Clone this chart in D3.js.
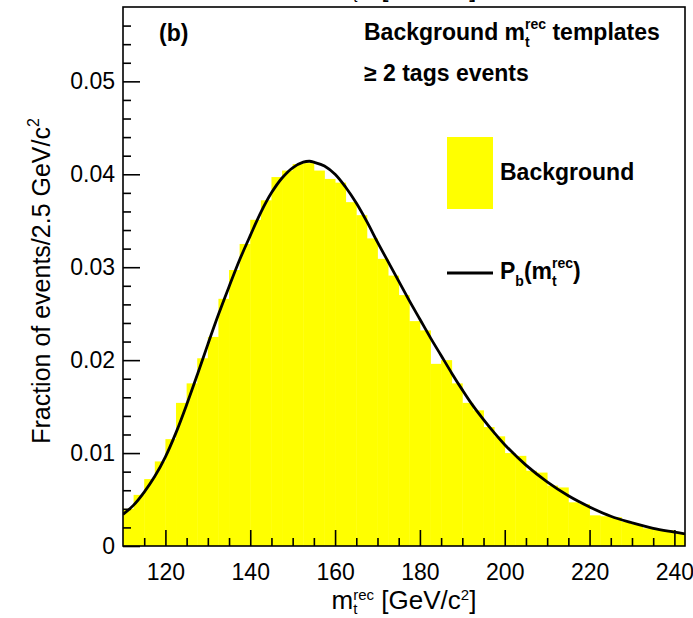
<!DOCTYPE html>
<html><head><meta charset="utf-8">
<script src="https://cdn.jsdelivr.net/npm/d3@7"></script>
<style>
body{margin:0;background:#fff}
svg{display:block}
text{font-family:"Liberation Sans",Arial,Helvetica,sans-serif;white-space:pre;fill:#000}
</style>
</head><body>
<svg id="chart" width="693" height="618"></svg>
<script>
// ---- data ----
const binStarts = [110,112.5,115,117.5,120,122.5,125,127.5,130,132.5,135,137.5,140,142.5,145,147.5,150,152.5,155,157.5,160,162.5,165,167.5,170,172.5,175,177.5,180,182.5,185,187.5,190,192.5,195,197.5,200,202.5,205,207.5,210,212.5,215,217.5,220,222.5,225,227.5,230,232.5,235,237.5,240];
const binWidth = 2.5;
const backgroundValues = [0.0040,0.0055,0.0072,0.0091,0.0115,0.0154,0.0175,0.0202,0.0225,0.0266,0.0297,0.0325,0.0351,0.0372,0.0397,0.0404,0.0411,0.0412,0.0404,0.0395,0.0391,0.0370,0.0356,0.0331,0.0309,0.0291,0.0270,0.0242,0.0232,0.0196,0.0200,0.0175,0.0154,0.0146,0.0128,0.0118,0.0100,0.0097,0.0081,0.0079,0.0065,0.0063,0.0047,0.0045,0.0033,0.0032,0.0031,0.0026,0.0023,0.0019,0.0018,0.0017,0.0013];
const fitX = [110,112.5,115,117.5,120,122.5,125,127.5,130,132.5,135,137.5,140,142.5,145,147.5,150,152.5,154,155,157.5,160,162.5,165,167.5,170,172.5,175,177.5,180,182.5,185,187.5,190,192.5,195,197.5,200,205,210,215,220,225,230,235,240,242.5];
const fitY = [0.0034,0.0044,0.0058,0.0075,0.0096,0.0122,0.0152,0.0184,0.0217,0.0249,0.0279,0.0308,0.0334,0.0359,0.0380,0.0396,0.0407,0.0413,0.0414,0.0413,0.0409,0.0400,0.0386,0.0369,0.0349,0.0327,0.0306,0.0285,0.0264,0.0244,0.0224,0.0205,0.0186,0.0168,0.0151,0.0136,0.0122,0.0109,0.0087,0.0069,0.0054,0.0042,0.0032,0.0025,0.0019,0.0015,0.0013];
const xTickValues = [120,140,160,180,200,220,240];
const xTickLabels = ["120","140","160","180","200","220","240"];
const yTickValues = [0,0.01,0.02,0.03,0.04,0.05];
const yTickLabels = ["0","0.01","0.02","0.03","0.04","0.05"];
const xDomain = [110,242.5];
const yDomain = [0,0.058];

// ---- layout ----
const L = 123, R = 685, T = 7, B = 546;
const svg = d3.select("#chart");
const x = d3.scaleLinear().domain(xDomain).range([L,R]);
const y = d3.scaleLinear().domain(yDomain).range([B,T]);

// histogram
svg.append("g").selectAll("rect").data(binStarts).join("rect")
  .attr("x", d => x(d))
  .attr("width", d => x(d+binWidth)-x(d)+0.4)
  .attr("y", (d,i) => y(backgroundValues[i]))
  .attr("height", (d,i) => y(0)-y(backgroundValues[i]))
  .attr("fill", "#ffff00");

// fit curve
const clipId = "plotclip";
svg.append("clipPath").attr("id", clipId).append("rect").attr("x",L).attr("y",T).attr("width",R-L).attr("height",B-T);
svg.append("path")
  .datum(fitX.map((v,i)=>[v,fitY[i]]))
  .attr("clip-path", `url(#${clipId})`)
  .attr("fill","none").attr("stroke","#000").attr("stroke-width",2.8)
  .attr("d", d3.line().x(d=>x(d[0])).y(d=>y(d[1])).curve(d3.curveCatmullRom.alpha(0.5)));

// axes
const fs = 23;
const xMinor = d3.range(115, 241, 5).filter(v => !xTickValues.includes(v));
const yMinor = d3.range(1, 29).map(k => k*0.002).filter(v => Math.abs(v*100 - Math.round(v*100)) > 1e-6);

const gxMinor = svg.append("g").attr("transform",`translate(0,${B})`)
  .call(d3.axisBottom(x).tickValues(xMinor).tickSize(-8).tickFormat(""));
const gx = svg.append("g").attr("transform",`translate(0,${B})`)
  .call(d3.axisBottom(x).tickValues(xTickValues).tickSize(-16).tickPadding(18)
    .tickFormat((d,i)=>xTickLabels[i]));
const gyMinor = svg.append("g").attr("transform",`translate(${L},0)`)
  .call(d3.axisLeft(y).tickValues(yMinor).tickSize(-8).tickFormat(""));
const gy = svg.append("g").attr("transform",`translate(${L},0)`)
  .call(d3.axisLeft(y).tickValues(yTickValues).tickSize(-17).tickPadding(8)
    .tickFormat((d,i)=>yTickLabels[i]));
[gx,gy,gxMinor,gyMinor].forEach(g=>{
  g.select(".domain").remove();
  g.selectAll(".tick line").attr("stroke","#000").attr("stroke-width",1.6);
  g.selectAll(".tick text").attr("font-size",fs).attr("font-family",'"Liberation Sans",Arial,sans-serif').attr("fill","#000");
});

// frame
svg.append("rect").attr("x",L).attr("y",T).attr("width",R-L).attr("height",B-T)
  .attr("fill","none").attr("stroke","#000").attr("stroke-width",1.6);

// rich text helper
function rich(parent, px, py, parts, opts={}) {
  const g = parent.append("g");
  let cx = 0, pend = 0;
  parts.forEach(p => {
    const t = g.append("text").attr("x", cx).attr("y", p.dy||0)
      .attr("font-size", p.s).attr("font-weight", opts.weight||"normal").text(p.t);
    const w = t.node().getComputedTextLength();
    if (p.stack) pend = Math.max(pend, w);
    else { cx += Math.max(w, pend); pend = 0; }
  });
  const dx = opts.anchor === "middle" ? -cx/2 : 0;
  g.attr("transform", `translate(${px},${py})` + (opts.rotate ? ` rotate(${opts.rotate})` : "") + ` translate(${dx},0)`);
  return g;
}

const bs = 23, ss = 14;
rich(svg, 159, 41, [{t:"(b)", s:bs}], {weight:"bold"});
rich(svg, 364, 40, [{t:"Background m", s:bs},{t:"t", s:ss, dy:7, stack:true},{t:"rec", s:ss, dy:-11},{t:" templates", s:bs}], {weight:"bold"});
rich(svg, 364, 81, [{t:"\u2265 2 tags events", s:bs}], {weight:"bold"});

// legend
svg.append("rect").attr("x",447).attr("y",137).attr("width",46).attr("height",72).attr("fill","#ffff00");
rich(svg, 500, 180, [{t:"Background", s:bs}], {weight:"bold"});
svg.append("line").attr("x1",447).attr("x2",493).attr("y1",273).attr("y2",273).attr("stroke","#000").attr("stroke-width",2.8);
rich(svg, 500, 279, [{t:"P", s:bs},{t:"b", s:ss, dy:7},{t:"(m", s:bs},{t:"t", s:ss, dy:7, stack:true},{t:"rec", s:ss, dy:-11},{t:")", s:bs}], {weight:"bold"});

// axis titles
const ts = 26, tss = 15;
rich(svg, 404, 609, [{t:"m", s:ts},{t:"t", s:tss, dy:5, stack:true},{t:"rec", s:tss, dy:-9},{t:" [GeV/c", s:ts},{t:"2", s:tss, dy:-9},{t:"]", s:ts}], {anchor:"middle"});
rich(svg, 50, 281, [{t:"Fraction of events/2.5 GeV/c", s:25},{t:"2", s:16, dy:-11}], {anchor:"middle", rotate:-90});
// cropped title of the panel above, only its lowest pixels show
rich(svg, 404, -3, [{t:"m", s:ts},{t:"t", s:tss, dy:5, stack:true},{t:"rec", s:tss, dy:-9},{t:" [GeV/c", s:ts},{t:"2", s:tss, dy:-9},{t:"]", s:ts}], {anchor:"middle"});
</script>
</body></html>
